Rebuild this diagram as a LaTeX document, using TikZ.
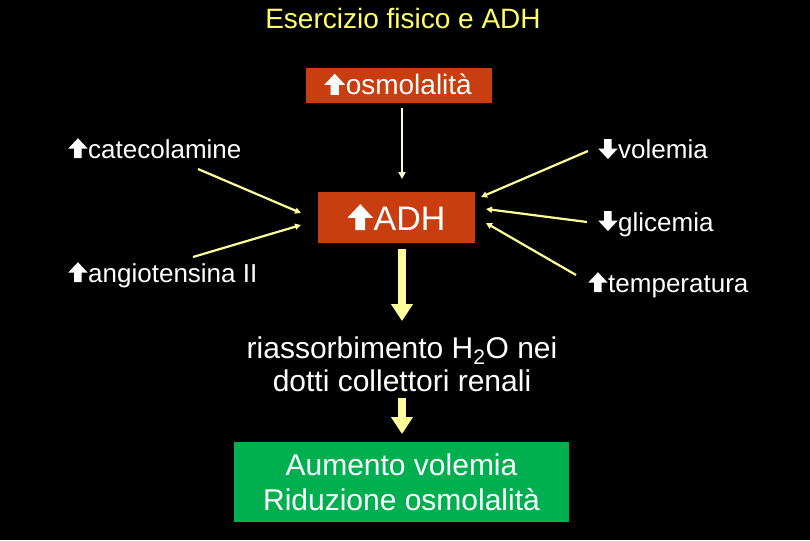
\documentclass[tikz,border=0pt]{standalone}
\usepackage{fontspec}
\setmainfont{Liberation Sans}
\usetikzlibrary{arrows.meta}
\definecolor{titley}{RGB}{255,255,102}
\definecolor{paley}{RGB}{255,255,153}
\definecolor{thiny}{RGB}{255,255,204}
\definecolor{boxred}{RGB}{200,62,14}
\definecolor{boxgreen}{RGB}{0,176,80}
\newcommand{\upa}{\tikz[baseline=0pt,x=1em,y=1em]\fill[white] (0.23,0) -- (0.52,0) -- (0.52,0.36) -- (0.75,0.36) -- (0.375,0.76) -- (0,0.36) -- (0.23,0.36) -- cycle;\hspace{0.02em}}
\newcommand{\dna}{\tikz[baseline=0pt,x=1em,y=1em]\fill[white] (0.23,0.76) -- (0.52,0.76) -- (0.52,0.40) -- (0.75,0.40) -- (0.375,0) -- (0,0.40) -- (0.23,0.40) -- cycle;\hspace{0.02em}}
\tikzset{
  lbl/.style={text=white, inner sep=0pt, font=\fontsize{26}{30}\selectfont, anchor=base west},
  redbox/.style={fill=boxred, text=white, inner sep=0pt},
  thinarr/.style={draw=paley, line width=2.2pt, -{Triangle[width=6pt,length=6pt]}},
  fatarr/.style={draw=paley, line width=7.5pt, -{Triangle[width=21pt,length=17pt]}}
}
\begin{document}
\begin{tikzpicture}[x=1pt,y=-1pt]
\fill[black] (0,0) rectangle (810,540);
\useasboundingbox (0,0) rectangle (810,540);

\node[text=titley, inner sep=0pt, anchor=base, font=\fontsize{28}{30}\selectfont] (title) at (403,28.5) {Esercizio fisico e ADH};

\node[redbox, minimum width=186pt, minimum height=35pt] (osm) at (399,85.5) {};
\node[text=white, inner sep=0pt, anchor=base, font=\fontsize{28}{30}\selectfont] (osmt) at (398,95) {\upa osmolalità};
\node[redbox, minimum width=157pt, minimum height=51pt] (adh) at (396.5,217.5) {};
\node[text=white, inner sep=0pt, anchor=base, font=\fontsize{34}{36}\selectfont] (adht) at (396.5,230) {\upa ADH};

\node[lbl] (cat) at (68,158) {\upa catecolamine};
\node[lbl] (ang) at (68,282) {\upa angiotensina II};
\node[lbl] (vol) at (598,159) {\dna volemia};
\node[lbl] (gli) at (598,231) {\dna glicemia};
\node[lbl] (tem) at (588,292) {\upa temperatura};

\node[text=white, inner sep=0pt, align=center, font=\fontsize{30}{33}\selectfont] (ria) at (402,364)
  {riassorbimento H\textsubscript{2}O nei\\dotti collettori renali};

\node[fill=boxgreen, text=white, inner sep=0pt, minimum width=335pt, minimum height=80pt, align=center, font=\fontsize{30}{35}\selectfont] (res) at (401.5,482)
  {Aumento volemia\\Riduzione osmolalità};

% thin arrow osm -> ADH
\coordinate (o1) at (402,108);
\coordinate (o2) at (402,179);
\draw[draw=thiny, line width=2pt, -{Triangle[width=7pt,length=7pt]}] (o1) -- (o2);

% side arrows
\coordinate (c1) at (198,169); \coordinate (c2) at (301,213);
\coordinate (a1) at (193,257); \coordinate (a2) at (301,225);
\coordinate (v1) at (588,151); \coordinate (v2) at (481,197);
\coordinate (g1) at (587,222); \coordinate (g2) at (486,209);
\coordinate (t1) at (576,275); \coordinate (t2) at (486,223);
\draw[thinarr] (c1) -- (c2);
\draw[thinarr] (a1) -- (a2);
\draw[thinarr] (v1) -- (v2);
\draw[thinarr] (g1) -- (g2);
\draw[thinarr] (t1) -- (t2);

% thick arrows
\coordinate (f1) at (402,249); \coordinate (f2) at (402,321);
\coordinate (h1) at (402,398); \coordinate (h2) at (402,434);
\draw[fatarr] (f1) -- (f2);
\draw[fatarr] (h1) -- (h2);
\end{tikzpicture}
\end{document}
